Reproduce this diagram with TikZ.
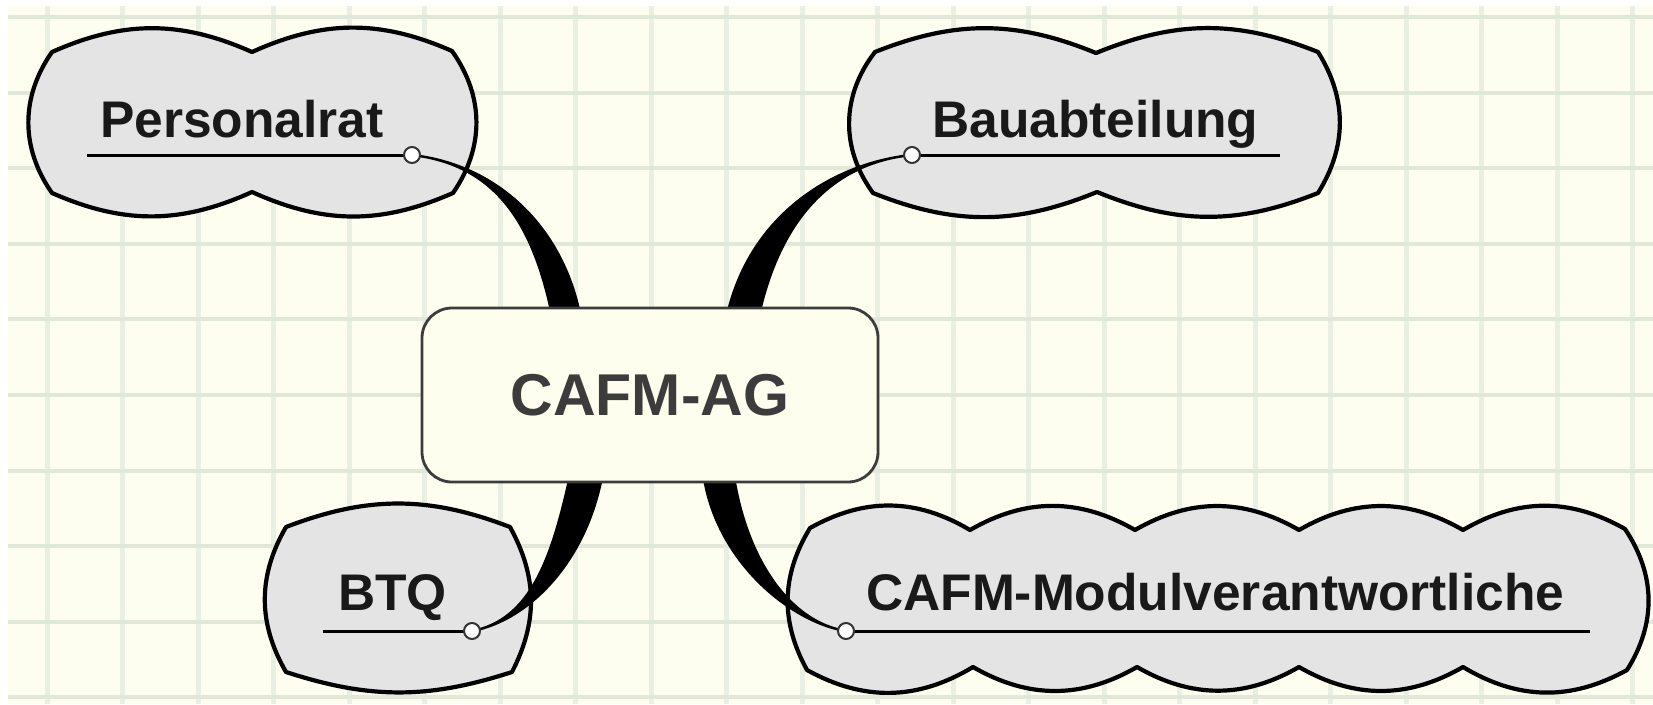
\documentclass[tikz,border=0pt]{standalone}
\usepackage{fontspec}
\setmainfont{Liberation Sans}
\definecolor{bgcream}{RGB}{253,254,240}
\definecolor{gridh}{RGB}{225,232,217}
\definecolor{gridv}{RGB}{233,239,226}
\definecolor{cloudfill}{RGB}{228,228,228}
\definecolor{boxfill}{RGB}{254,254,238}
\definecolor{boxline}{RGB}{60,60,60}
\definecolor{titletext}{RGB}{60,60,60}
\begin{document}
\begin{tikzpicture}[x=1pt,y=-1pt,
  cloudshape/.style={fill=cloudfill, draw=black, line width=4.2pt, line join=round},
  topiclabel/.style={inner sep=0pt, anchor=base west, font=\fontsize{51.5}{60}\selectfont\bfseries, text=black!90},
  underl/.style={line width=3pt, black},
  dot/.style={circle, fill=white, draw=black!80, line width=2pt, minimum size=16pt, inner sep=0pt},
  branch/.style={fill=black, draw=black, line width=2.4pt, line join=round},
  centerbox/.style={rounded corners=30pt, fill=boxfill, draw=boxline, line width=2.8pt, minimum width=456pt, minimum height=174pt, inner sep=0pt, font=\fontsize{59}{70}\selectfont\bfseries, text=titletext}
]
\useasboundingbox (0,0) rectangle (1653,704);
\fill[white] (0,0) rectangle (1653,704);
\fill[bgcream] (8,6) rectangle (1653,704);
% grid
\foreach \k in {0,...,21} {
  \draw[gridv, line width=5pt] ({47+75.5*\k},6) -- ({47+75.5*\k},704);
}
\foreach \k in {0,...,9} {
  \draw[gridh, line width=4pt] (8,{17+75.6*\k}) -- (1653,{17+75.6*\k});
}

% clouds
\draw[cloudshape] (52,52) to[bend left=24] (252,52) to[bend left=24] (452,51)
  to[bend left=35] (453,193) to[bend left=24] (252,192) to[bend left=24] (52,193)
  to[bend left=35] (52,52) -- cycle;
\draw[cloudshape] (875,52) to[bend left=22] (1096,53) to[bend left=22] (1318,52)
  to[bend left=32] (1318,193) to[bend left=22] (1097,192) to[bend left=22] (873,193)
  to[bend left=37] (875,52) -- cycle;
\draw[cloudshape] (286,527) to[bend left=21] (510,527) to[bend left=28] (512,672)
  to[bend left=18] (286,672) to[bend left=30] (286,527) -- cycle;
\draw[cloudshape] (810,528) to[bend left=30] (970,530) to[bend left=30] (1135,530)
  to[bend left=30] (1299,530) to[bend left=30] (1463,530) to[bend left=30] (1625,529)
  to[bend left=33] (1627,670) to[bend left=30] (1463,667) to[bend left=30] (1299,667)
  to[bend left=30] (1137,667) to[bend left=30] (973,667) to[bend left=30] (807,670)
  to[bend left=30] (810,528) -- cycle;

% labels
\node[topiclabel] (prlabel) at (100,137) {Personalrat};
\node[topiclabel] (balabel) at (932,137) {Bauabteilung};
\node[topiclabel] (btlabel) at (338,610) {BTQ};
\node[topiclabel] (mvlabel) at (866,610) {CAFM-Modulverantwortliche};

% connection points
\coordinate (prdotc) at (412,155);
\coordinate (badotc) at (912,155);
\coordinate (btdotc) at (472,631);
\coordinate (mvdotc) at (846,631);

% underlines
\draw[underl] (87,155) -- (prdotc);
\draw[underl] (badotc) -- (1280,155);
\draw[underl] (323,631) -- (btdotc);
\draw[underl] (mvdotc) -- (1590,631);

% tapered branches
\path[branch] (prdotc) .. controls (500,165) and (535,230) .. (553,320)
  -- (581,320) .. controls (565,230) and (500,165) .. (prdotc) -- cycle;
\path[branch] (badotc) .. controls (840,162) and (749,210) .. (726,320)
  -- (758,320) .. controls (781,210) and (840,162) .. (badotc) -- cycle;
\path[branch] (btdotc) .. controls (530,620) and (552,560) .. (571,471)
  -- (603,471) .. controls (588,560) and (530,620) .. (btdotc) -- cycle;
\path[branch] (mvdotc) .. controls (790,622) and (746,560) .. (733,471)
  -- (703,471) .. controls (714,560) and (790,622) .. (mvdotc) -- cycle;

% center
\node[centerbox] (cafm) at (650,395) {CAFM-AG};

% dots
\node[dot] (prdot) at (prdotc) {};
\node[dot] (badot) at (badotc) {};
\node[dot] (btdot) at (btdotc) {};
\node[dot] (mvdot) at (mvdotc) {};
\end{tikzpicture}
\end{document}
